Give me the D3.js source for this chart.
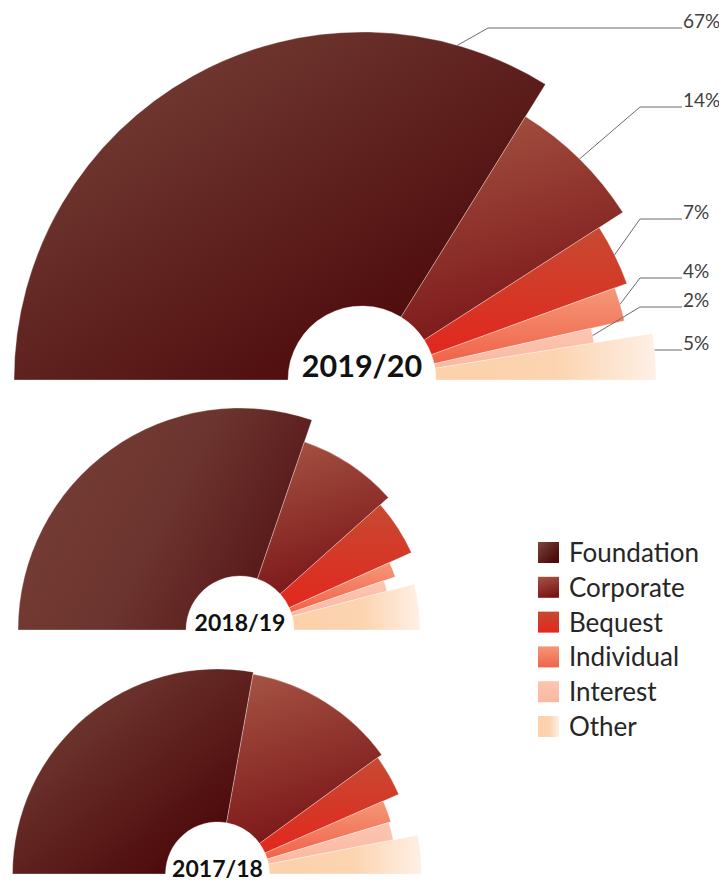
<!DOCTYPE html>
<html>
<head>
<meta charset="utf-8">
<script src="https://cdn.jsdelivr.net/npm/d3@7"></script>
<style>
  html, body { margin: 0; padding: 0; background: #fff; }
  svg { display: block; font-family: Lato, "Open Sans", sans-serif; }
</style>
</head>
<body>
<svg id="chart" width="719" height="881"></svg>
<script>
// ---- Data -------------------------------------------------------------
const categories = ["Foundation", "Corporate", "Bequest", "Individual", "Interest", "Other"];
const years = ["2019/20", "2018/19", "2017/18"];

// Share of income by source (%), sets each slice's angle
const share1920 = [67, 14, 7, 4, 2, 5];
const share1819 = [60.5, 16.3, 9.7, 3.0, 2.3, 8.2];
const share1718 = [55.6, 24.4, 6.8, 3.9, 3.2, 6.1];

// Radial index by source (Foundation = 100), sets each slice's length
const radial1920 = [100, 89.1, 81.0, 77.3, 67.5, 84.5];
const radial1819 = [100, 89.6, 84.7, 73.9, 68.5, 81.1];
const radial1718 = [100, 99.0, 96.6, 88.3, 87.3, 99.5];

// ---- Styles & layout --------------------------------------------------
const gradients = [
  { x1: 0, y1: 0, x2: 0.8, y2: 0.8, stops: [[0, "#7b473d"], [1, "#4e0b0c"]] },
  { x1: 0.2, y1: 0, x2: 0.5, y2: 1, stops: [[0, "#a45242"], [1, "#7a1417"]] },
  { x1: 0, y1: 0, x2: 0, y2: 1, stops: [[0, "#c74a31"], [1, "#e2271e"]] },
  { x1: 0, y1: 0, x2: 0, y2: 1, stops: [[0, "#f59777"], [1, "#f0634a"]] },
  { x1: 0, y1: 0, x2: 0, y2: 1, stops: [[0, "#fcc6b2"], [1, "#fab8a0"]] },
  { x1: 0, y1: 0, x2: 1, y2: 0, stops: [[0, "#fcd1ab"], [0.55, "#fcd4b0"], [1, "#fef0e6"]] }
];
// softer, mostly left-to-right shading for the middle year's Foundation slice
const foundationAlt = { x1: 0, y1: 0.3, x2: 1, y2: 0.7, stops: [[0, "#753e35"], [0.5, "#6c342e"], [1, "#521113"]] };

const layout = [
  { cx: 362, cy: 380, hole: 74, rMax: 348, font: 30.5, base: 377, labels: true, altFoundation: false },
  { cx: 240, cy: 630, hole: 54, rMax: 222, font: 23, base: 630.5, labels: false, altFoundation: true },
  { cx: 217.5, cy: 874, hole: 52, rMax: 205, font: 23, base: 877, labels: false, altFoundation: false }
];

// Value-label leader geometry for the labelled chart
const labelLineY = [28, 107, 219, 278, 307, 350];
const labelElbowX = [488, 640, 640, 640, 640, null];
const labelTextX = 683;

const shares = [share1920, share1819, share1718];
const radials = [radial1920, radial1819, radial1718];

// ---- Drawing ----------------------------------------------------------
const svg = d3.select("#chart");
const defs = svg.append("defs");

function addGradient(id, g) {
  const lg = defs.append("linearGradient")
    .attr("id", id)
    .attr("x1", g.x1).attr("y1", g.y1).attr("x2", g.x2).attr("y2", g.y2);
  g.stops.forEach(s => lg.append("stop").attr("offset", s[0]).attr("stop-color", s[1]));
}
gradients.forEach((g, i) => addGradient("grad-" + i, g));
addGradient("grad-0-alt", foundationAlt);

const pie = d3.pie()
  .value(d => d.share)
  .sort(null)
  .startAngle(-Math.PI / 2)
  .endAngle(Math.PI / 2);

years.forEach((year, yi) => {
  const L = layout[yi];
  const rows = categories.map((c, i) => ({ cat: c, idx: i, share: shares[yi][i], radial: radials[yi][i] }));
  const r = d3.scaleLinear().domain([0, 100]).range([0, L.rMax]);
  const arcs = pie(rows);

  const arc = d3.arc()
    .innerRadius(L.hole)
    .outerRadius(d => r(d.data.radial));

  const g = svg.append("g").attr("transform", `translate(${L.cx},${L.cy})`);

  g.selectAll("path.slice")
    .data(arcs)
    .join("path")
    .attr("class", "slice")
    .attr("d", arc)
    .attr("fill", d => (d.data.idx === 0 && L.altFoundation) ? "url(#grad-0-alt)" : `url(#grad-${d.data.idx})`)
    .attr("stroke", "rgba(255,255,255,0.45)")
    .attr("stroke-width", 0.7);

  if (L.labels) {
    const lines = svg.append("g");
    arcs.forEach((d, i) => {
      const rr = r(d.data.radial);
      const y = labelLineY[i];
      let ax, ay;
      if (labelElbowX[i] === null) {
        // attach where the label line meets the slice edge horizontally
        ay = y;
        ax = L.cx + Math.sqrt(rr * rr - (L.cy - y) * (L.cy - y));
      } else {
        const a0 = Math.max(d.startAngle, 0);
        const ang = (a0 + d.endAngle) / 2;
        ax = L.cx + rr * Math.sin(ang);
        ay = L.cy - rr * Math.cos(ang);
      }
      const pts = [[ax, ay]];
      if (labelElbowX[i] !== null) pts.push([labelElbowX[i], y]);
      pts.push([labelTextX - 1, y]);
      lines.append("path")
        .attr("d", d3.line()(pts))
        .attr("fill", "none")
        .attr("stroke", "#6b6b6b")
        .attr("stroke-width", 1);
      lines.append("text")
        .attr("x", labelTextX)
        .attr("y", y - 0.5)
        .attr("font-size", 19)
        .attr("fill", "#404040")
        .text(d3.format("d")(d.data.share) + "%");
    });
  }

  svg.append("text")
    .attr("x", L.cx)
    .attr("y", L.base)
    .attr("text-anchor", "middle")
    .attr("font-size", L.font)
    .attr("font-weight", 700)
    .attr("fill", "#111")
    .text(year);
});

// ---- Legend -----------------------------------------------------------
const legend = svg.append("g").attr("transform", "translate(538,542)");
const legendRow = d3.scalePoint().domain(categories).range([0, 174]);
const item = legend.selectAll("g.item")
  .data(categories)
  .join("g")
  .attr("class", "item")
  .attr("transform", d => `translate(0,${legendRow(d)})`);
item.append("rect")
  .attr("width", 21).attr("height", 21)
  .attr("fill", (d, i) => `url(#grad-${i})`);
item.append("text")
  .attr("x", 31)
  .attr("y", 20)
  .attr("font-size", 26)
  .attr("fill", "#262626")
  .text(d => d);
</script>
</body>
</html>
